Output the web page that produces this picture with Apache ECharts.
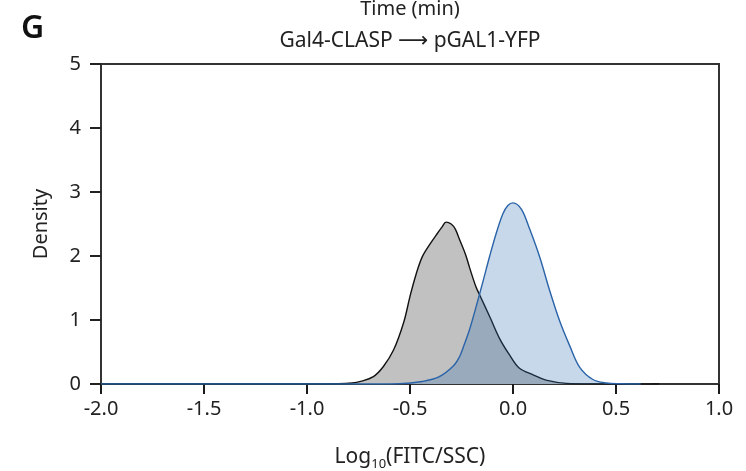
<!DOCTYPE html>
<html>
<head>
<meta charset="utf-8">
<script src="https://cdn.jsdelivr.net/npm/echarts@6/dist/echarts.min.js"></script>
<style>
html,body{margin:0;padding:0;background:#fff;}
#chart{width:746px;height:471px;}
</style>
</head>
<body>
<div id="chart"></div>
<script>
// Data
var xTicks = [-2.0, -1.5, -1.0, -0.5, 0.0, 0.5, 1.0];
var yTicks = [0, 1, 2, 3, 4, 5];

var grayX = [-2.0, -1.0, -0.85, -0.78, -0.74, -0.68, -0.63, -0.58, -0.53, -0.50, -0.47, -0.44, -0.40, -0.37, -0.345, -0.325, -0.30, -0.28, -0.26, -0.23, -0.21, -0.18, -0.16, -0.11, -0.065, -0.016, 0.03, 0.10, 0.16, 0.26, 0.40, 0.71];
var grayY = [0, 0, 0.003, 0.015, 0.04, 0.11, 0.27, 0.53, 0.97, 1.37, 1.72, 1.99, 2.20, 2.34, 2.45, 2.53, 2.50, 2.42, 2.26, 2.02, 1.81, 1.52, 1.38, 1.03, 0.71, 0.45, 0.25, 0.14, 0.06, 0.01, 0.002, 0];

var blueX = [-2.0, -0.8, -0.55, -0.44, -0.36, -0.29, -0.259, -0.243, -0.21, -0.178, -0.146, -0.113, -0.081, -0.049, -0.025, 0.0, 0.041, 0.081, 0.13, 0.178, 0.227, 0.275, 0.324, 0.388, 0.453, 0.52, 0.62];
var blueY = [0, 0, 0.005, 0.04, 0.11, 0.28, 0.43, 0.56, 0.86, 1.22, 1.60, 2.00, 2.36, 2.66, 2.79, 2.83, 2.73, 2.42, 1.98, 1.46, 0.98, 0.60, 0.26, 0.07, 0.015, 0.003, 0];

function pairs(xs, ys){ return xs.map(function(x,i){ return [x, ys[i]]; }); }

var FONT = '"Noto Sans", "DejaVu Sans", sans-serif';
var chart = echarts.init(document.getElementById('chart'), null, {renderer:'canvas'});
chart.setOption({
  animation:false,
  backgroundColor:'#fff',
  grid:{left:101, right:27, top:64, bottom:87, show:true, borderColor:'#333', borderWidth:2,
        backgroundColor:'transparent', containLabel:false, outerBoundsMode:'none'},
  graphic:[
    {type:'text', left:21, top:13, style:{text:'G', font:'600 32px ' + FONT, fill:'#111'}},
    {type:'text', x:410, y:9, style:{text:'Time (min)', font:'20px ' + FONT, fill:'#222', align:'center', verticalAlign:'middle'}},
    {type:'text', x:410, y:41, style:{text:'Gal4-CLASP \u27F6 pGAL1-YFP', font:'21px ' + FONT, fill:'#222', align:'center', verticalAlign:'middle'}}
  ],
  xAxis:[{
    type:'value', min:xTicks[0], max:xTicks[xTicks.length-1], interval:0.5,
    axisLine:{show:true, onZero:false, lineStyle:{color:'#333', width:2}},
    axisTick:{show:true, inside:false, length:10, lineStyle:{color:'#222', width:2}},
    splitLine:{show:false},
    axisLabel:{margin:15, color:'#222', fontSize:20, fontFamily:FONT, formatter:function(v){return v.toFixed(1);}},
    name:'Log{sub|10}(FITC/SSC)',
    nameLocation:'middle', nameGap:60,
    nameTextStyle:{color:'#222', fontSize:21, fontFamily:FONT,
      rich:{sub:{fontSize:13, fontFamily:FONT, color:'#222', padding:[14,0,0,0]}}}
  },{
    type:'value', min:xTicks[0], max:xTicks[xTicks.length-1], interval:0.5, position:'bottom',
    axisLine:{show:false, onZero:false},
    axisTick:{show:true, length:10, lineStyle:{color:'#1a1a1a', width:2}},
    axisLabel:{show:false}, splitLine:{show:false}
  }],
  yAxis:{
    type:'value', min:yTicks[0], max:yTicks[yTicks.length-1], interval:1,
    axisLine:{show:true, onZero:false, lineStyle:{color:'#333', width:2}},
    axisTick:{show:true, inside:false, length:11, lineStyle:{color:'#222', width:2}},
    splitLine:{show:false},
    axisLabel:{margin:20, color:'#222', fontSize:20, fontFamily:FONT},
    name:'Density', nameLocation:'middle', nameGap:50, nameRotate:90,
    nameTextStyle:{color:'#222', fontSize:20, fontFamily:FONT}
  },
  series:[
    {type:'line', data:pairs(grayX, grayY), smooth:0.35, symbol:'none',
     lineStyle:{color:'#111', width:1.4}, areaStyle:{color:'#c1c1c1', opacity:1}, z:2},
    {type:'line', data:pairs(blueX, blueY), smooth:0.35, symbol:'none',
     lineStyle:{color:'#2a63a8', width:1.4}, areaStyle:{color:'rgb(44,111,178)', opacity:0.27}, z:3}
  ]
});
</script>
</body>
</html>
